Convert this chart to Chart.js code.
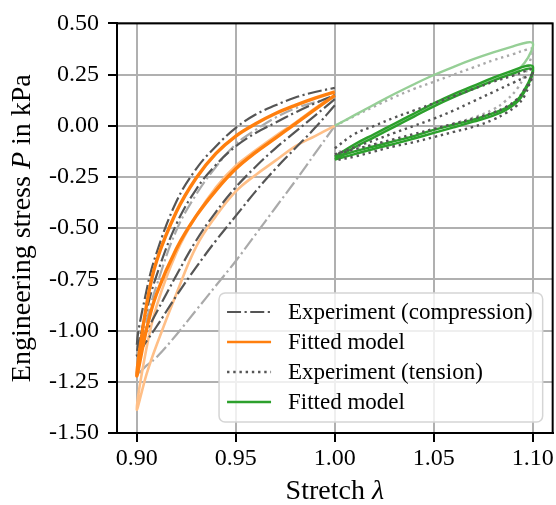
<!DOCTYPE html>
<html>
<head>
<meta charset="utf-8">
<script src="https://cdn.jsdelivr.net/npm/chart.js@4.4.1/dist/chart.umd.min.js"></script>
<style>
  html, body { margin: 0; padding: 0; background: #fff; }
  #wrap { width: 556px; height: 505px; }
</style>
</head>
<body>
<div id="wrap"><canvas id="stressChart"></canvas></div>
<script>
// ---- values ----
const xTicks = [0.90, 0.95, 1.00, 1.05, 1.10];
const yTicks = [-1.50, -1.25, -1.00, -0.75, -0.50, -0.25, 0.00, 0.25, 0.50];

// compression side, stretch grid 0.90 -> 1.00
const compX = [0.900, 0.905, 0.910, 0.920, 0.930, 0.940, 0.950, 0.960, 0.970, 0.980, 0.990, 1.000];
// experiment, first cycle (light)
const expFirstLoad   = [-1.21, -1.17, -1.13, -1.02, -0.90, -0.78, -0.66, -0.53, -0.40, -0.27, -0.135, 0.00];
const expFirstUnload = [-1.20, -0.95, -0.78, -0.51, -0.335, -0.20, -0.09, -0.02, 0.04, 0.085, 0.115, 0.14];
// experiment, later cycles (dark)
const expLoad1   = [-1.08, -1.00, -0.91, -0.73, -0.56, -0.42, -0.30, -0.20, -0.11, -0.03, 0.05, 0.13];
const expUnload1 = [-1.05, -0.80, -0.62, -0.37, -0.21, -0.10, -0.01, 0.055, 0.10, 0.138, 0.165, 0.185];
const expLoad2   = [-1.12, -1.05, -0.98, -0.83, -0.69, -0.56, -0.44, -0.32, -0.21, -0.11, -0.01, 0.10];
const expUnload2 = [-1.10, -0.90, -0.73, -0.48, -0.31, -0.19, -0.10, -0.035, 0.015, 0.065, 0.11, 0.15];
// fitted model (orange)
const fitFirstLoad   = [-1.385, -1.21, -1.07, -0.82, -0.59, -0.44, -0.32, -0.24, -0.17, -0.10, -0.05, 0.00];
const fitFirstUnload = [-1.385, -1.08, -0.88, -0.62, -0.44, -0.30, -0.195, -0.12, -0.05, 0.015, 0.085, 0.15];
const fitLoad   = [-1.22, -0.99, -0.82, -0.60, -0.44, -0.315, -0.21, -0.13, -0.06, 0.01, 0.08, 0.149];
const fitUnload = [-1.22, -0.87, -0.66, -0.42, -0.255, -0.135, -0.05, 0.01, 0.06, 0.10, 0.135, 0.166];

// tension side
const tensLoadX   = [1.000, 1.010, 1.020, 1.030, 1.040, 1.050, 1.060, 1.070, 1.080, 1.090, 1.097, 1.100];
const tensUnloadX = [1.100, 1.099, 1.096, 1.092, 1.086, 1.080, 1.070, 1.060, 1.050, 1.040, 1.030, 1.020, 1.010, 1.000];
// experiment (dotted)
const tenExpFirstLoad   = [0.00, 0.048, 0.095, 0.14, 0.18, 0.215, 0.25, 0.285, 0.32, 0.35, 0.372, 0.375];
const tenExpFirstUnload = [0.375, 0.33, 0.25, 0.18, 0.12, 0.08, 0.04, 0.01, -0.02, -0.048, -0.072, -0.094, -0.113, -0.13];
const tenExpLoad1   = [-0.11, -0.04, 0.00, 0.04, 0.075, 0.11, 0.145, 0.18, 0.215, 0.245, 0.27, 0.275];
const tenExpUnload1 = [0.275, 0.23, 0.15, 0.10, 0.06, 0.03, -0.005, -0.03, -0.055, -0.08, -0.10, -0.125, -0.15, -0.17];
const tenExpLoad2   = [-0.14, -0.105, -0.07, -0.035, 0.00, 0.035, 0.075, 0.12, 0.165, 0.21, 0.24, 0.245];
const tenExpUnload2 = [0.245, 0.22, 0.18, 0.13, 0.09, 0.065, 0.035, 0.01, -0.015, -0.04, -0.065, -0.09, -0.115, -0.14];
// fitted model (green)
const tenFitFirstLoad   = [0.00, 0.052, 0.104, 0.155, 0.203, 0.248, 0.288, 0.325, 0.358, 0.388, 0.407, 0.403];
const tenFitFirstUnload = [0.403, 0.36, 0.31, 0.27, 0.245, 0.225, 0.19, 0.15, 0.105, 0.055, 0.005, -0.045, -0.095, -0.15];
const tenFitLoad1   = [-0.15, -0.09, -0.04, 0.01, 0.06, 0.11, 0.155, 0.195, 0.235, 0.27, 0.293, 0.29];
const tenFitUnload1 = [0.28, 0.24, 0.18, 0.125, 0.085, 0.062, 0.03, 0.005, -0.02, -0.05, -0.075, -0.10, -0.125, -0.155];
const tenFitLoad2   = [-0.165, -0.105, -0.055, -0.005, 0.045, 0.095, 0.14, 0.18, 0.22, 0.255, 0.278, 0.275];
const tenFitUnload2 = [0.265, 0.23, 0.17, 0.115, 0.075, 0.05, 0.02, -0.008, -0.035, -0.062, -0.088, -0.112, -0.138, -0.165];

const legendLabels = ['Experiment (compression)', 'Fitted model', 'Experiment (tension)', 'Fitted model'];

// ---- styles ----
const FONT = '"Liberation Serif", "Times New Roman", serif';
const DARK = '#555555', LIGHT = '#aaaaaa';
const ORANGE = '#ff7f0e', ORANGE_LIGHT = '#ffbf87';
const GREEN = '#2ca02c', GREEN_LIGHT = '#96cf96';
const DASHDOT = [14, 3.5, 2.2, 3.5];
const DOTTED = [2.4, 3.8];

// compression: go down along the loading curve, come back along the unloading one
function compCycle(loadY, unloadY) {
    const down = compX.map((x, i) => ({ x: x, y: loadY[i] })).reverse();
    const up = compX.map((x, i) => ({ x: x, y: unloadY[i] })).slice(1);
    return down.concat(up);
}
function tensCycle(loadY, unloadY) {
    const up = tensLoadX.map((x, i) => ({ x: x, y: loadY[i] }));
    const down = tensUnloadX.map((x, i) => ({ x: x, y: unloadY[i] })).slice(1);
    return up.concat(down);
}
function line(data, color, width, dash, order) {
    return { data: data, borderColor: color, borderWidth: width, borderDash: dash || [],
             pointRadius: 0, fill: false, tension: 0.4, order: order };
}

const datasets = [
    line(compCycle(expFirstLoad, expFirstUnload), LIGHT, 2.2, DASHDOT, 20),
    line(compCycle(fitFirstLoad, fitFirstUnload), ORANGE_LIGHT, 2.6, null, 19),
    line(compCycle(expLoad1, expUnload1), DARK, 2.2, DASHDOT, 15),
    line(compCycle(expLoad2, expUnload2), DARK, 2.2, DASHDOT, 14),
    line(compCycle(fitLoad, fitUnload), ORANGE, 3.4, null, 10),
    line(tensCycle(tenExpFirstLoad, tenExpFirstUnload), LIGHT, 2.4, DOTTED, 18),
    line(tensCycle(tenFitFirstLoad, tenFitFirstUnload), GREEN_LIGHT, 2.4, null, 17),
    line(tensCycle(tenFitLoad1, tenFitUnload1), GREEN, 2.4, null, 12),
    line(tensCycle(tenFitLoad2, tenFitUnload2), GREEN, 2.4, null, 11),
    line(tensCycle(tenExpLoad1, tenExpUnload1), DARK, 2.4, DOTTED, 9),
    line(tensCycle(tenExpLoad2, tenExpUnload2), DARK, 2.4, DOTTED, 8),
];

const legendStyles = [
    { color: DARK, width: 2.2, dash: DASHDOT },
    { color: ORANGE, width: 2.6, dash: [] },
    { color: DARK, width: 2.4, dash: DOTTED },
    { color: GREEN, width: 2.6, dash: [] },
];

// frame, axis titles with italic symbols, and the legend inside the plot
const extras = {
    id: 'extras',
    afterDraw(chart) {
        const ctx = chart.ctx, a = chart.chartArea;
        ctx.save();
        ctx.strokeStyle = '#000';
        ctx.lineWidth = 2;
        ctx.setLineDash([]);
        ctx.strokeRect(a.left, a.top, a.right - a.left, a.bottom - a.top);

        // axis titles
        ctx.fillStyle = '#000';
        ctx.textBaseline = 'alphabetic';
        const drawParts = (parts, cx, cy) => {
            let total = 0;
            parts.forEach(p => { ctx.font = (p[1] ? 'italic ' : '') + '28px ' + FONT; total += ctx.measureText(p[0]).width; });
            let x = cx - total / 2;
            parts.forEach(p => {
                ctx.font = (p[1] ? 'italic ' : '') + '28px ' + FONT;
                ctx.fillText(p[0], x, cy);
                x += ctx.measureText(p[0]).width;
            });
        };
        drawParts([['Stretch ', false], ['\u03bb', true]], (a.left + a.right) / 2, 499);
        ctx.save();
        ctx.translate(30, (a.top + a.bottom) / 2);
        ctx.rotate(-Math.PI / 2);
        drawParts([['Engineering stress ', false], ['P', true], [' in kPa', false]], 0, 0);
        ctx.restore();

        // legend
        ctx.font = '23px ' + FONT;
        const textW = Math.max(...legendLabels.map(t => ctx.measureText(t).width));
        const w = textW + 79, h = 129;
        const x0 = a.right - 10 - w, y0 = a.bottom - 11 - h;
        ctx.beginPath();
        ctx.roundRect(x0, y0, w, h, 6);
        ctx.fillStyle = 'rgba(255,255,255,0.8)';
        ctx.fill();
        ctx.strokeStyle = '#d5d5d5';
        ctx.lineWidth = 1.5;
        ctx.stroke();
        ctx.textBaseline = 'middle';
        legendLabels.forEach((label, i) => {
            const cy = y0 + 19 + i * 30;
            const s = legendStyles[i];
            ctx.strokeStyle = s.color;
            ctx.lineWidth = s.width;
            ctx.setLineDash(s.dash);
            ctx.beginPath();
            ctx.moveTo(x0 + 8, cy);
            ctx.lineTo(x0 + 52, cy);
            ctx.stroke();
            ctx.setLineDash([]);
            ctx.fillStyle = '#000';
            ctx.fillText(label, x0 + 69, cy + 1);
        });
        ctx.restore();
    }
};

const ctx = document.getElementById('stressChart').getContext('2d');
const stressChart = new Chart(ctx, {
    type: 'line',
    data: { datasets: datasets },
    options: {
        responsive: true,
        maintainAspectRatio: false,
        animation: false,
        devicePixelRatio: 1,
        layout: { padding: { top: 21, right: 3, left: 0, bottom: 0 } },
        plugins: { legend: { display: false }, tooltip: { enabled: false } },
        scales: {
            x: {
                type: 'linear',
                min: 0.89,
                max: 1.11,
                afterBuildTicks: s => { s.ticks = xTicks.map(v => ({ value: v })); },
                afterFit: s => { s.height = 72; },
                ticks: {
                    color: '#000',
                    padding: 2,
                    maxRotation: 0,
                    font: { family: FONT, size: 24 },
                    callback: v => Number(v).toFixed(2)
                },
                grid: { color: '#b0b0b0', lineWidth: 2, tickColor: '#000', tickLength: 9, tickWidth: 2 },
                border: { color: '#000', width: 2 }
            },
            y: {
                min: -1.5,
                max: 0.5,
                afterBuildTicks: s => { s.ticks = yTicks.map(v => ({ value: v })); },
                afterFit: s => { s.width = 117; },
                ticks: {
                    color: '#000',
                    padding: 9,
                    font: { family: FONT, size: 24 },
                    callback: v => Number(v).toFixed(2)
                },
                grid: { color: '#b0b0b0', lineWidth: 2, tickColor: '#000', tickLength: 9, tickWidth: 2 },
                border: { color: '#000', width: 2 }
            }
        }
    },
    plugins: [extras]
});
</script>
</body>
</html>
